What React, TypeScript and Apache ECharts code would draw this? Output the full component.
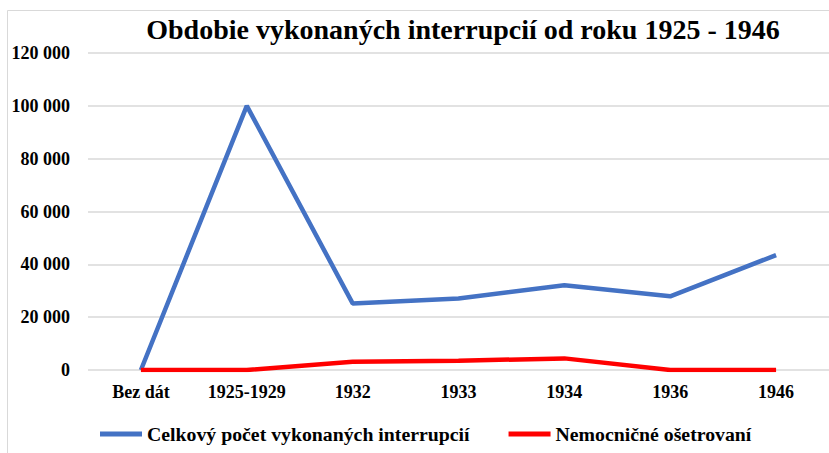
import React, { useEffect, useRef } from "react";
import * as echarts from "echarts";

const categories = ["Bez dát", "1925-1929", "1932", "1933", "1934", "1936", "1946"];
const totalAbortions = [0, 100000, 25200, 27100, 32100, 27900, 43500];
const hospitalTreated = [0, 0, 3100, 3500, 4400, 0, 0];
const seriesNames = ["Celkový počet vykonaných interrupcií", "Nemocničné ošetrovaní"];
const titleText = "Obdobie vykonaných interrupcií od roku 1925 - 1946";

const FONT = "'Liberation Serif', 'Times New Roman', serif";

function fmt(v: number): string {
  return String(Math.round(v)).replace(/\B(?=(\d{3})+(?!\d))/g, " ");
}

export default function App() {
  const ref = useRef<HTMLDivElement>(null);
  useEffect(() => {
    if (!ref.current) return;
    const chart = echarts.init(ref.current, undefined, { renderer: "svg" });
    chart.setOption({
      animation: false,
      backgroundColor: "#ffffff",
      graphic: [
        {
          type: "rect",
          shape: { x: 7.5, y: 10.5, width: 840, height: 460 },
          style: { fill: "none", stroke: "#d9d9d9", lineWidth: 1 },
          silent: true,
        },
        {
          type: "text",
          x: 463,
          y: 15,
          style: {
            text: titleText,
            font: `bold 28px ${FONT}`,
            fill: "#000000",
            textAlign: "center",
            textVerticalAlign: "top",
          },
        },
      ],
      grid: { left: 88, right: 0, top: 53, bottom: 83, containLabel: false },
      legend: {
        left: 95,
        top: 419,
        itemWidth: 42,
        itemHeight: 5,
        itemGap: 39,
        icon: "rect",
        textStyle: { fontFamily: FONT, fontWeight: "bold", fontSize: 19.8, color: "#000" },
        data: seriesNames,
      },
      xAxis: {
        type: "category",
        data: categories,
        boundaryGap: true,
        axisLine: { show: false },
        axisTick: { show: false },
        axisLabel: {
          fontFamily: FONT,
          fontWeight: "bold",
          fontSize: 18,
          color: "#000",
          margin: 13,
        },
      },
      yAxis: {
        type: "value",
        min: 0,
        max: 120000,
        interval: 20000,
        axisLine: { show: false },
        axisTick: { show: false },
        splitLine: { lineStyle: { color: "#d9d9d9", width: 1.5 } },
        axisLabel: {
          fontFamily: FONT,
          fontWeight: "bold",
          fontSize: 18,
          color: "#000",
          margin: 18,
          formatter: (v: number) => fmt(v),
        },
      },
      series: [
        {
          name: seriesNames[0],
          type: "line",
          data: totalAbortions,
          symbol: "none",
          lineStyle: { color: "#4472c4", width: 4.5 },
          itemStyle: { color: "#4472c4" },
        },
        {
          name: seriesNames[1],
          type: "line",
          data: hospitalTreated,
          symbol: "none",
          lineStyle: { color: "#ff0000", width: 4.5 },
          itemStyle: { color: "#ff0000" },
        },
      ],
    });
    return () => chart.dispose();
  }, []);
  return (
    <div
      ref={ref}
      style={{ position: "fixed", left: 0, top: 0, width: 829, height: 453 }}
    />
  );
}
